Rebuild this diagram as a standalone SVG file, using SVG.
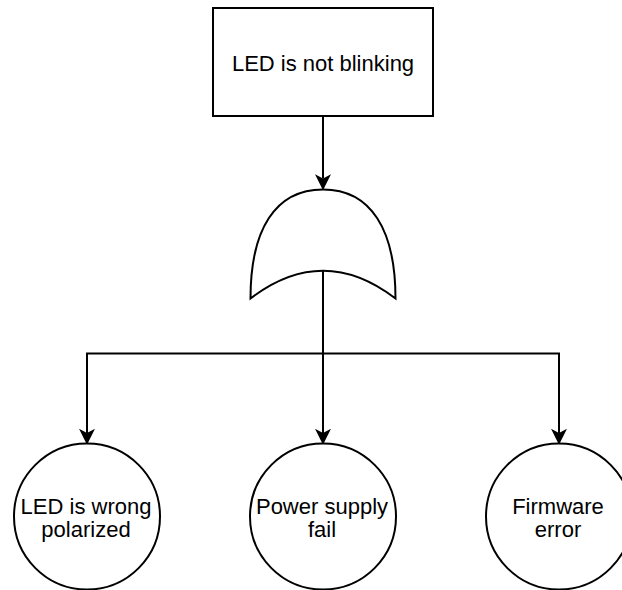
<svg xmlns="http://www.w3.org/2000/svg" width="622" height="590" viewBox="0 0 622 590">
  <style>
    .shape { fill: #ffffff; stroke: #000000; stroke-width: 2; }
    .wire { fill: none; stroke: #000000; stroke-width: 2; }
    .label { font-family: "Liberation Sans", Arial, sans-serif; font-size: 22px; fill: #000000; text-anchor: middle; }
  </style>
  <defs>
    <marker id="arrow" markerUnits="userSpaceOnUse" markerWidth="16" markerHeight="16" viewBox="0 0 15 15" refX="4" refY="7.5" orient="auto">
      <path d="M0,0 L15,7.5 L0,15 L4,7.5 Z" fill="#000000"/>
    </marker>
  </defs>

  <rect width="622" height="590" fill="#ffffff"/>

  <!-- connectors -->
  <g id="connectors">
    <line class="wire" x1="323" y1="117" x2="323" y2="178.5" marker-end="url(#arrow)"/>
    <line class="wire" x1="323" y1="271" x2="323" y2="433" marker-end="url(#arrow)"/>
    <polyline class="wire" points="323,353.5 87,353.5 87,433" marker-end="url(#arrow)"/>
    <polyline class="wire" points="323,353.5 559,353.5 559,433" marker-end="url(#arrow)"/>
  </g>

  <!-- top event -->
  <g id="top-event">
    <rect class="shape" x="213" y="8" width="220" height="108"/>
    <text class="label" x="323" y="71">LED is not blinking</text>
  </g>

  <!-- OR gate -->
  <g id="or-gate">
    <path class="shape" d="M250.5,298.5 C250.5,230 275,189.5 323,189.5 C371,189.5 395.5,230 395.5,298.5 Q323,243 250.5,298.5 Z"/>
  </g>

  <!-- basic events -->
  <g id="event-polarity">
    <circle class="shape" cx="87" cy="516.5" r="73"/>
    <text class="label" x="86" y="513.5">LED is wrong</text>
    <text class="label" x="86" y="537">polarized</text>
  </g>
  <g id="event-power">
    <circle class="shape" cx="323" cy="516.5" r="73"/>
    <text class="label" x="322" y="513.5">Power supply</text>
    <text class="label" x="322" y="537">fail</text>
  </g>
  <g id="event-firmware">
    <circle class="shape" cx="559" cy="516.5" r="73"/>
    <text class="label" x="558" y="513.5">Firmware</text>
    <text class="label" x="558" y="537">error</text>
  </g>
</svg>
